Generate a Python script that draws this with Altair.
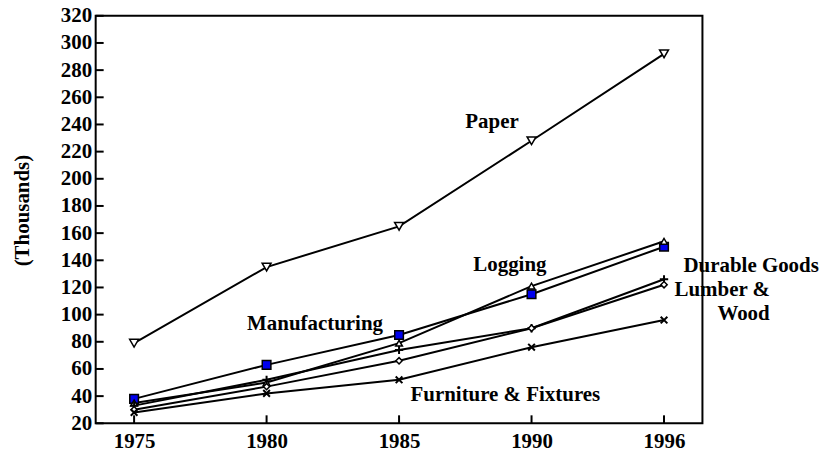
import altair as alt
import pandas as pd

years = ["1975", "1980", "1985", "1990", "1996"]
paper = [79, 135, 165, 228, 292]
manufacturing = [38, 63, 85, 115, 150]
logging_ = [35, 50, 79, 121, 154]
durable = [33, 52, 74, 90, 126]
lumber = [30, 47, 66, 90, 122]
furniture = [28, 42, 52, 76, 96]
y_ticks = list(range(20, 321, 20))

series = {
    "Paper": paper,
    "Manufacturing": manufacturing,
    "Logging": logging_,
    "Durable Goods": durable,
    "Lumber & Wood": lumber,
    "Furniture & Fixtures": furniture,
}
rows = []
for name, vals in series.items():
    for yr, v in zip(years, vals):
        rows.append({"year": yr, "value": v, "series": name})
df = pd.DataFrame(rows)

FONT = "Liberation Serif"
FS = 21
W, H = 609, 409

xsc = alt.Scale(type="point", domain=years, padding=0.29)
ysc = alt.Scale(domain=[20, 320], nice=False, zero=False)

xaxis = alt.Axis(title=None, labelAngle=0, labelFont=FONT, labelFontSize=FS,
                 labelFontWeight="bold", labelColor="black", ticks=False,
                 domain=False, labelPadding=7)
yaxis = alt.Axis(title="(Thousands)", values=y_ticks, titleFont=FONT, titleFontSize=FS,
                 titleFontWeight="bold", titleColor="black", labelFont=FONT,
                 labelFontSize=FS, labelFontWeight="bold", labelColor="black",
                 ticks=False, domain=False, grid=False, labelPadding=4,
                 labelOverlap=False, titleX=-73, titleY=195,
                 titleBaseline="middle", titleAlign="center")

xenc = alt.X("year:O", scale=xsc, axis=xaxis)
yenc = alt.Y("value:Q", scale=ysc, axis=yaxis)

lines = alt.Chart(df).mark_line(color="black", strokeWidth=2).encode(
    x=xenc, y=yenc, detail="series:N")

marker_styles = {
    "Paper": dict(shape="triangle-down", size=80, filled=True, fill="white", stroke="black", strokeWidth=1.5),
    "Manufacturing": dict(shape="square", size=75, filled=True, fill="#0000ee", stroke="black", strokeWidth=1.5),
    "Logging": dict(shape="triangle-up", size=45, filled=True, fill="white", stroke="black", strokeWidth=1.5),
    "Durable Goods": dict(shape="M-1,0L1,0M0,-1L0,1", size=70, filled=False, stroke="black", strokeWidth=2),
    "Lumber & Wood": dict(shape="diamond", size=40, filled=True, fill="white", stroke="black", strokeWidth=1.5),
    "Furniture & Fixtures": dict(shape="M-1,-1L1,1M-1,1L1,-1", size=45, filled=False, stroke="black", strokeWidth=2),
}
points = []
for name, style in marker_styles.items():
    points.append(
        alt.Chart(df[df["series"] == name]).mark_point(opacity=1, **style).encode(x=xenc, y=yenc)
    )

ytick_df = pd.DataFrame({"value": y_ticks})
yticks = alt.Chart(ytick_df).mark_rule(color="black", strokeWidth=2).encode(
    y=yenc, x=alt.value(0), x2=alt.value(8))
xtick_df = pd.DataFrame({"year": years})
xticks = alt.Chart(xtick_df).mark_rule(color="black", strokeWidth=2).encode(
    x=xenc, y=alt.value(H), y2=alt.value(H - 8))

# (text, left x, baseline y) relative to the plot area
labels = [
    ("Paper", 371, 113),
    ("Logging", 379, 256),
    ("Manufacturing", 152, 315),
    ("Furniture & Fixtures", 316, 387),
    ("Durable Goods", 590, 257),
    ("Lumber &", 581, 281),
    ("Wood", 624, 305),
]
texts = []
for t, px, py in labels:
    texts.append(
        alt.Chart(pd.DataFrame({"t": [t]})).mark_text(
            font=FONT, fontSize=FS, fontWeight="bold", color="black", align="left",
            baseline="alphabetic").encode(text="t:N", x=alt.value(px), y=alt.value(py))
    )

chart = alt.layer(lines, *points, yticks, xticks, *texts).properties(
    width=W, height=H,
    background="white",
    autosize=alt.AutoSizeParams(type="none"),
    padding={"left": 88, "top": 7, "right": 120, "bottom": 30},
).configure_view(stroke="black", strokeWidth=2)

chart.save("out.html", embed_options={"renderer": "svg", "actions": False})
